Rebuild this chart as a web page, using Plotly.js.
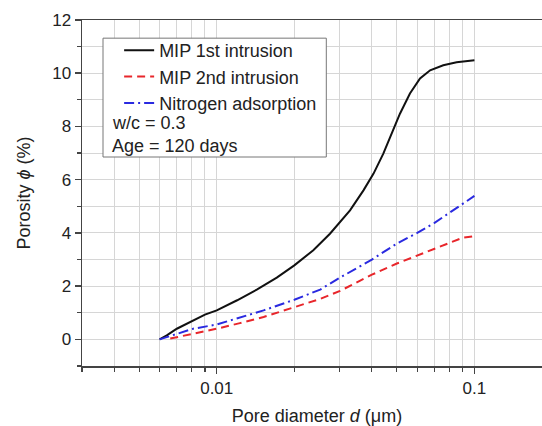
<!DOCTYPE html>
<html>
<head>
<meta charset="utf-8">
<script src="https://cdn.plot.ly/plotly-3.0.1.min.js"></script>
<style>
html,body{margin:0;padding:0;overflow:hidden;background:#fff;}
#chart{width:552px;height:426px;}
</style>
</head>
<body>
<div id="chart"></div>
<script>
// Pore diameter d (µm) and porosity (%)
const dMip1 = [0.006, 0.0064, 0.0070, 0.0079, 0.0090, 0.0100, 0.0120, 0.0143, 0.0171, 0.0200, 0.0237, 0.0275, 0.0301, 0.0329, 0.0371, 0.0406, 0.0443, 0.0478, 0.0514, 0.0562, 0.0615, 0.0673, 0.0757, 0.0853, 0.1000];
const pMip1 = [0, 0.15, 0.40, 0.65, 0.93, 1.09, 1.47, 1.87, 2.32, 2.78, 3.35, 3.97, 4.41, 4.85, 5.60, 6.23, 6.98, 7.73, 8.48, 9.24, 9.80, 10.11, 10.30, 10.41, 10.49];

const dMip2 = [0.0066, 0.0081, 0.0100, 0.0123, 0.0152, 0.0200, 0.0252, 0.0301, 0.0400, 0.0500, 0.0600, 0.0700, 0.0900, 0.1000];
const pMip2 = [0.03, 0.21, 0.40, 0.61, 0.84, 1.21, 1.52, 1.82, 2.43, 2.85, 3.16, 3.41, 3.82, 3.88];

const dN2 = [0.006, 0.0070, 0.0081, 0.0100, 0.0123, 0.0152, 0.0200, 0.0252, 0.0301, 0.0400, 0.0500, 0.0600, 0.0700, 0.0900, 0.1000];
const pN2 = [0, 0.21, 0.40, 0.56, 0.82, 1.09, 1.49, 1.87, 2.32, 3.00, 3.60, 4.00, 4.38, 5.10, 5.39];

const seriesNames = ["MIP 1st intrusion", "MIP 2nd intrusion", "Nitrogen adsorption"];
const noteLines = ["w/c = 0.3", "Age = 120 days"];

const xTickVals = [0.01, 0.1];
const xTickText = ["0.01", "0.1"];
const xMinorVals = [0.003, 0.004, 0.005, 0.006, 0.007, 0.008, 0.009, 0.02, 0.03, 0.04, 0.05, 0.06, 0.07, 0.08, 0.09, 0.2];

const FONT = "Liberation Sans, Arial, sans-serif";
const TXT = "#222";
const AX = "#444";
const GRID = "#d6d6d6";

const traces = [
  {x: dMip1, y: pMip1, name: seriesNames[0], mode: "lines", line: {color: "#111", width: 2}},
  {x: dMip2, y: pMip2, name: seriesNames[1], mode: "lines", line: {color: "#e8262b", width: 2, dash: "8px,5px"}},
  {x: dN2, y: pN2, name: seriesNames[2], mode: "lines", line: {color: "#2a2ae0", width: 2, dash: "10px,4px,2px,4px"}}
];

const layout = {
  width: 552, height: 426,
  margin: {l: 82, r: 0, t: 20, b: 60},
  paper_bgcolor: "#fff", plot_bgcolor: "#fff",
  font: {family: FONT, color: TXT, size: 17},
  showlegend: true,
  legend: {
    x: 0.079, xanchor: "left", y: 0.9653, yanchor: "top",
    bgcolor: "rgba(0,0,0,0)", borderwidth: 0,
    font: {family: FONT, size: 18, color: TXT},
    tracegroupgap: 0
  },
  xaxis: {
    type: "log",
    range: [Math.log10(0.003), Math.log10(0.2)],
    tickmode: "array", tickvals: xTickVals, ticktext: xTickText,
    ticks: "outside", ticklen: 6, tickwidth: 1.5, tickcolor: AX,
    showline: true, linecolor: AX, linewidth: 1.5, mirror: true,
    showgrid: true, gridcolor: GRID, gridwidth: 1,
    zeroline: false,
    tickfont: {family: FONT, size: 17, color: TXT},
    minor: {tickmode: "array", tickvals: xMinorVals, ticks: "outside", ticklen: 4, tickwidth: 1.2, tickcolor: AX, showgrid: true, gridcolor: GRID, gridwidth: 1},
    title: {text: "Pore diameter <i>d</i> (μm)", font: {family: FONT, size: 18, color: TXT}, standoff: 16},
    automargin: false
  },
  yaxis: {
    range: [-1, 12],
    tickmode: "linear", tick0: 0, dtick: 2,
    ticks: "outside", ticklen: 6, tickwidth: 1.5, tickcolor: AX,
    showline: true, linecolor: AX, linewidth: 1.5, mirror: true,
    showgrid: true, gridcolor: GRID, gridwidth: 1,
    zeroline: false,
    tickfont: {family: FONT, size: 17, color: TXT},
    minor: {dtick: 1, ticks: "outside", ticklen: 4, tickwidth: 1.2, tickcolor: AX, showgrid: true, gridcolor: GRID, gridwidth: 1},
    title: {text: "Porosity <i>ϕ</i> (%)", font: {family: FONT, size: 18, color: TXT}, standoff: 17},
    automargin: false
  },
  shapes: [
    {type: "rect", xref: "paper", yref: "paper", x0: 0.0447, x1: 0.5198, y0: (366 - 157) / 346, y1: 0.9475,
     fillcolor: "#fff", line: {color: "#777", width: 1}, layer: "above"}
  ],
  annotations: [
    {xref: "paper", yref: "paper", x: 0.060, y: (366 - 123) / 346, xanchor: "left", yanchor: "middle", showarrow: false,
     text: noteLines[0], font: {family: FONT, size: 18, color: TXT}},
    {xref: "paper", yref: "paper", x: 0.060, y: (366 - 145.5) / 346, xanchor: "left", yanchor: "middle", showarrow: false,
     text: noteLines[1], font: {family: FONT, size: 18, color: TXT}}
  ]
};

Plotly.newPlot("chart", traces, layout, {displayModeBar: false, staticPlot: true});
</script>
</body>
</html>
